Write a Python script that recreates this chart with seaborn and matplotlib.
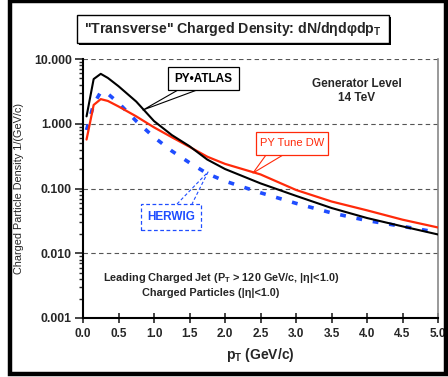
import numpy as np
import pandas as pd
import seaborn as sns
from matplotlib import pyplot as plt
from matplotlib.patches import Rectangle
from matplotlib.lines import Line2D
from matplotlib.ticker import FuncFormatter, FixedLocator

# values
pt = [0.05, 0.15, 0.25, 0.35, 0.5, 0.75, 1.0, 1.25, 1.5, 1.75, 2.0, 2.5, 3.0, 3.5, 4.0, 4.5, 5.0]
py_atlas = [1.3, 4.9, 5.9, 5.1, 3.8, 2.2, 1.1, 0.67, 0.45, 0.28, 0.20, 0.12, 0.077, 0.050, 0.035, 0.026, 0.0195]
py_dw = [0.57, 1.95, 2.4, 2.25, 1.85, 1.3, 0.88, 0.62, 0.44, 0.31, 0.24, 0.165, 0.095, 0.063, 0.046, 0.033, 0.025]
herwig = [0.8, 2.0, 3.1, 2.9, 2.1, 1.1, 0.62, 0.38, 0.25, 0.17, 0.13, 0.086, 0.059, 0.042, 0.032, 0.026, 0.021]

x_ticks = [0.0, 0.5, 1.0, 1.5, 2.0, 2.5, 3.0, 3.5, 4.0, 4.5, 5.0]
y_ticks = [0.001, 0.01, 0.1, 1.0, 10.0]

sns.set_theme(style="white")
plt.rcParams['font.family'] = ['Liberation Sans', 'DejaVu Sans']
plt.rcParams['mathtext.fontset'] = 'custom'
plt.rcParams['mathtext.rm'] = 'Liberation Sans'
plt.rcParams['mathtext.bf'] = 'Liberation Sans:bold'
plt.rcParams['mathtext.it'] = 'Liberation Sans:italic'

W, H = 448, 377
fig = plt.figure(figsize=(W / 100, H / 100), dpi=100)
fig.patch.set_facecolor('white')

# pixel helpers (origin top-left)
def fx(px):
    return px / W

def fy(py):
    return 1 - py / H

ax = fig.add_axes([fx(83), fy(318), fx(438) - fx(83), fy(59) - fy(318)])

df = pd.DataFrame({"pt": pt, "atlas": py_atlas, "dw": py_dw, "herwig": herwig})
sns.lineplot(data=df, x="pt", y="herwig", ax=ax, color="#1f4dff", lw=2.6,
             linestyle=(0, (1.6, 3.0)), zorder=3)
sns.lineplot(data=df, x="pt", y="dw", ax=ax, color="#ff2a0a", lw=1.6, zorder=4)
sns.lineplot(data=df, x="pt", y="atlas", ax=ax, color="black", lw=1.5, zorder=5)

ax.set_yscale('log')
ax.set_xlim(0, 5)
ax.set_ylim(0.001, 10)
ax.xaxis.set_major_locator(FixedLocator(x_ticks))
ax.yaxis.set_major_locator(FixedLocator(y_ticks))
ax.xaxis.set_major_formatter(FuncFormatter(lambda v, p: f"{v:.1f}"))
ax.yaxis.set_major_formatter(FuncFormatter(lambda v, p: f"{v:.3f}"))
ax.set_xlabel("p$_{\\mathbf{T}}$ (GeV/c)", fontsize=10, fontweight='bold', labelpad=4)
ax.set_ylabel("Charged Particle Density 1/(GeV/c)", fontsize=7.8, labelpad=7)

for lab in ax.get_xticklabels() + ax.get_yticklabels():
    lab.set_fontweight('bold')
ax.tick_params(axis='x', which='major', direction='inout', length=7, width=1.2,
               labelsize=8.5, pad=4, bottom=True)
ax.tick_params(axis='y', which='major', direction='out', length=6, width=1.2,
               labelsize=8.8, pad=2, left=True)
ax.tick_params(axis='y', which='minor', direction='out', length=3, width=1, left=True)

ax.yaxis.grid(True, which='major', color='#555555', lw=0.8, ls=(0, (4, 3)))
ax.xaxis.grid(False)
ax.spines['top'].set_visible(False)
ax.spines['right'].set_color('#888888')
ax.spines['right'].set_linewidth(1.2)
for s in ['left', 'bottom']:
    ax.spines[s].set_color('black')
    ax.spines[s].set_linewidth(1.5)

# outer frame
fig.add_artist(Rectangle((fx(10), fy(374)), fx(446) - fx(10), fy(1) - fy(374),
                         transform=fig.transFigure, fill=False, ec='black', lw=3.2))

# title box with shadow
fig.add_artist(Rectangle((fx(79), fy(45)), fx(391) - fx(79), fy(17) - fy(45),
                         transform=fig.transFigure, fc='black', ec='black', lw=0))
fig.add_artist(Rectangle((fx(77), fy(43)), fx(389) - fx(77), fy(15) - fy(43),
                         transform=fig.transFigure, fc='white', ec='black', lw=1))
fig.text(fx(233), fy(29), '"Transverse" Charged Density: dN/d\u03b7d\u03c6dp$_{\\mathbf{T}}$',
         ha='center', va='center', fontsize=10.2, fontweight='bold')


def callout(box, pts, text, color, ls='-', weight='bold', size=8.5):
    x0, y0, x1, y1 = box
    (ax0, ay0), (ax1, ay1), (tx, ty) = pts
    fig.add_artist(Line2D([fx(ax0), fx(tx), fx(ax1)], [fy(ay0), fy(ty), fy(ay1)],
                          transform=fig.transFigure, color=color, lw=0.8, ls=ls))
    fig.add_artist(Rectangle((fx(x0), fy(y1)), fx(x1) - fx(x0), fy(y0) - fy(y1),
                             transform=fig.transFigure, fc='white', ec=color, lw=0.9, ls=ls,
                             zorder=6))
    fig.text(fx((x0 + x1) / 2), fy((y0 + y1) / 2), text, ha='center', va='center',
             color=color, fontsize=size, fontweight=weight, zorder=7)


callout((168, 67, 239, 90), ((178, 90), (197, 90), (143, 110)), "PY\u2022ATLAS", 'black')
callout((256, 132, 328, 155), ((266, 155), (283, 155), (253, 173)), "PY Tune DW",
        '#ff2a0a', weight='normal', size=8)
callout((141, 204, 201, 230), ((177, 204), (192, 204), (208, 172)), "HERWIG",
        '#1f4dff', ls=(0, (3, 2)))

fig.text(fx(357), fy(84), "Generator Level", ha='center', va='center',
         fontsize=8.5, fontweight='bold')
fig.text(fx(357), fy(98), "14 TeV", ha='center', va='center',
         fontsize=8.5, fontweight='bold')
fig.text(fx(221), fy(278), "Leading Charged Jet (P$_{\\mathbf{T}}$ > 120 GeV/c, |\u03b7|<1.0)",
         ha='center', va='center', fontsize=7.8, fontweight='bold')
fig.text(fx(211), fy(293), "Charged Particles (|\u03b7|<1.0)",
         ha='center', va='center', fontsize=7.8, fontweight='bold')

fig.savefig("out.png", dpi=100)
